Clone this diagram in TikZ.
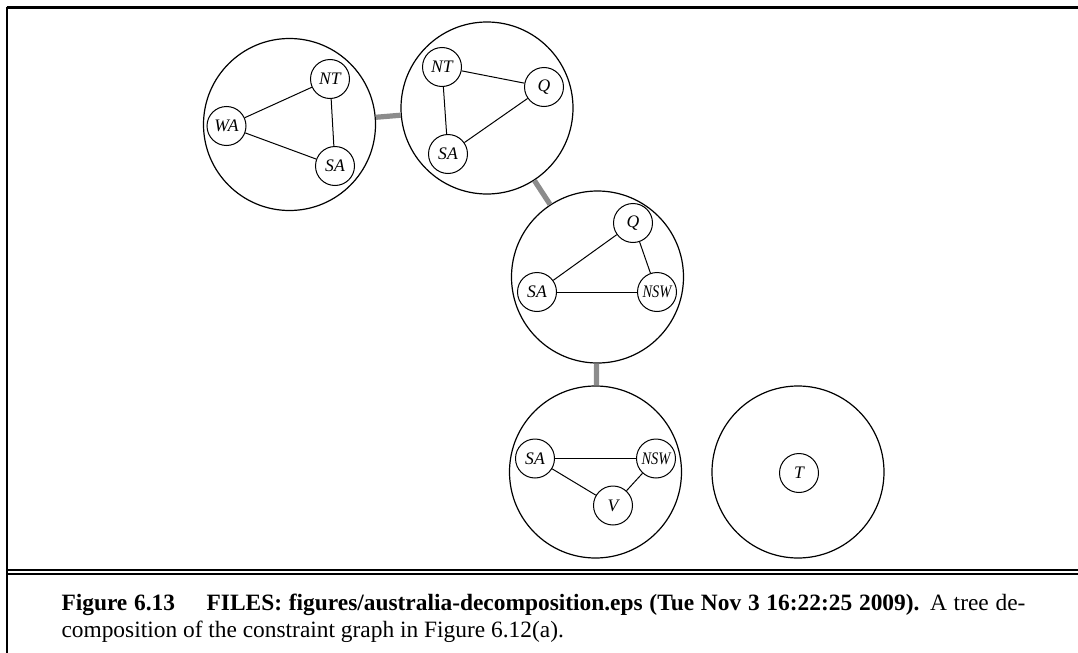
\documentclass[tikz,border=0pt]{standalone}
\usepackage{fontspec}
\setmainfont{Liberation Serif}
\usepackage{tikz}
\usetikzlibrary{positioning}
\usetikzlibrary{calc}
\definecolor{treegray}{gray}{0.55}

\begin{document}
\begin{tikzpicture}[x=.5pt, y=-.5pt, line width=.5pt,
  bagnode/.style={circle, draw, line width=.6pt, minimum size=86pt, inner sep=0pt},
  regnode/.style={circle, draw, minimum size=19.5pt, inner sep=0pt, font=\fontsize{8.8}{9}\selectfont\itshape},
  bagedge/.style={line width=2.6pt, treegray}]
\useasboundingbox (0,0) rectangle (1078,653);
% -- frame --
\draw[line width=1.3pt] (6.5,7.5) to (1078,7.5);
\draw[line width=1pt] (7,7) to (7,653);
\draw[line width=1pt] (7,570) to (1078,570);
\draw[line width=1pt] (7,573.5) to (1078,573.5);
% -- bag 1: WA, NT, SA --
\node[bagnode] (bag1) at (289.5,124.5) {};
\node[regnode] (wa1) at (226.5,126) {WA};
\node[regnode] (nt1) at (330,79) {NT};
\node[regnode] (sa1) at (335,166) {SA};
\draw (wa1) to (nt1);
\draw (wa1) to (sa1);
\draw (nt1) to (sa1);
% -- bag 2: NT, Q, SA --
\node[bagnode] (bag2) at (487,108) {};
\node[regnode] (nt2) at (442,67) {NT};
\node[regnode] (q2) at (544,87) {Q};
\node[regnode] (sa2) at (448,154) {SA};
\draw (nt2) to (q2);
\draw (nt2) to (sa2);
\draw (sa2) to (q2);
% -- bag 3: Q, SA, NSW --
\node[bagnode] (bag3) at (597.5,277) {};
\node[regnode] (q3) at (633,223) {Q};
\node[regnode] (sa3) at (537,292) {SA};
\node[regnode] (nsw3) at (657,292) {\scalebox{.82}[1]{NSW}};
\draw (q3) to (sa3);
\draw (q3) to (nsw3);
\draw (sa3) to (nsw3);
% -- bag 4: SA, NSW, V --
\node[bagnode] (bag4) at (595.5,472) {};
\node[regnode] (sa4) at (535,458.5) {SA};
\node[regnode] (nsw4) at (656,458.5) {\scalebox{.82}[1]{NSW}};
\node[regnode] (v4) at (613,505.5) {V};
\draw (sa4) to (nsw4);
\draw (sa4) to (v4);
\draw (nsw4) to (v4);
% -- bag 5: T alone --
\node[bagnode] (bag5) at (798,472) {};
\node[regnode] (t5) at (799,473) {T};
% -- tree links --
\draw[bagedge] (bag1) to (bag2);
\draw[bagedge] (bag2) to (bag3);
\draw[bagedge] (bag3) to (bag4);
% -- caption --
\node[anchor=base west, inner sep=0pt, text width=482pt, align=justify, font=\fontsize{11.7}{13.6}\selectfont] (capt) at (61,610) {\textbf{Figure 6.13}\hspace{1.35em}\textbf{FILES: figures/australia-decomposition.eps (Tue Nov 3 16:22:25 2009).} A tree de-\linebreak composition of the constraint graph in Figure 6.12(a).};
\end{tikzpicture}
\end{document}
